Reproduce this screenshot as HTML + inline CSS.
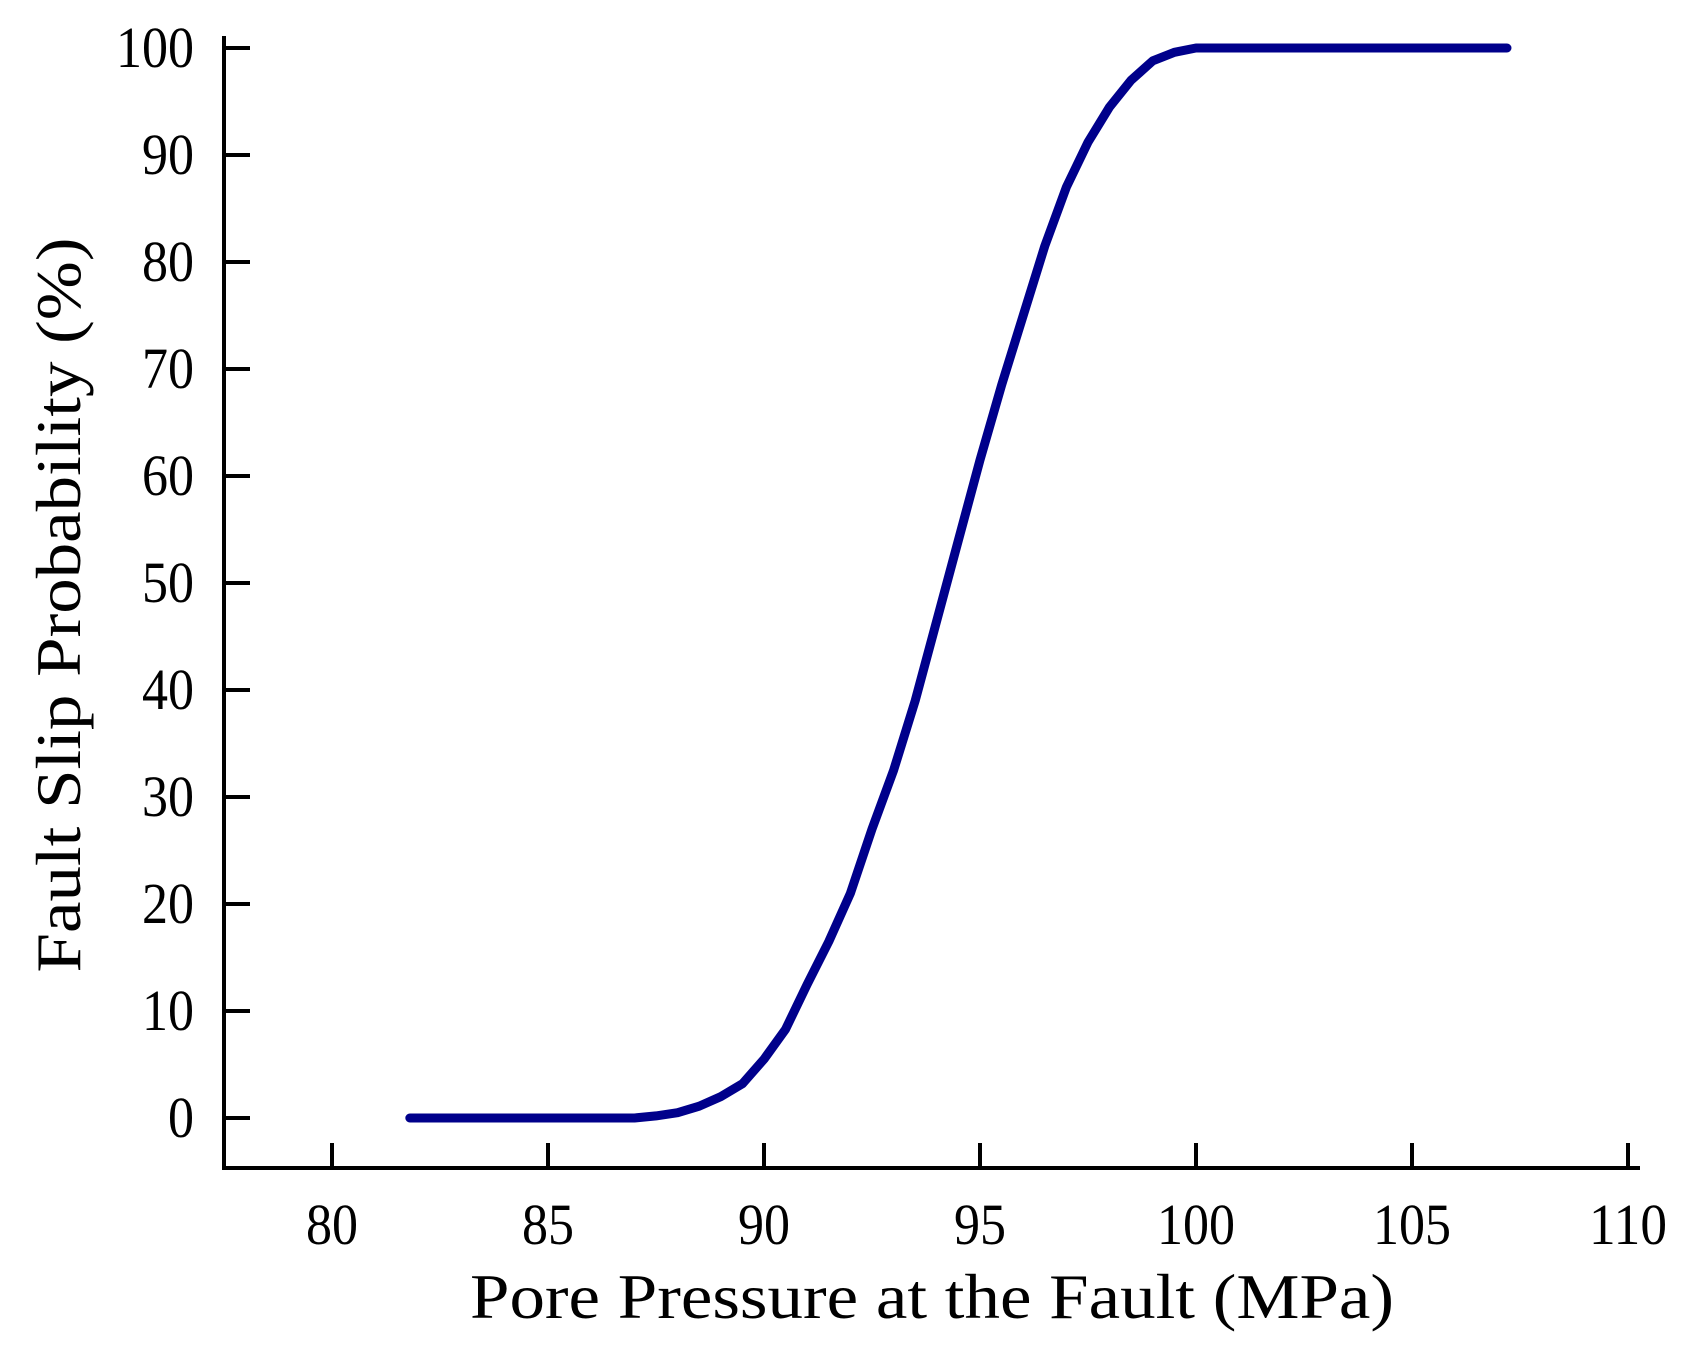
<!DOCTYPE html>
<html><head><meta charset="utf-8"><style>
html,body{margin:0;padding:0;background:#fff;}
svg{display:block;font-family:"Liberation Serif",serif;}
</style></head><body>
<svg id="chart" width="1686" height="1359" viewBox="0 0 1686 1359">
<g id="axes"></g>
<g id="series"></g>
<text x="932" y="1318" font-size="64" text-anchor="middle" textLength="924" lengthAdjust="spacingAndGlyphs">Pore Pressure at the Fault (MPa)</text>
<text transform="translate(80,605) rotate(-90)" font-size="64" text-anchor="middle" textLength="735" lengthAdjust="spacingAndGlyphs">Fault Slip Probability (%)</text>
</svg>
<script>
const xTicks = [80, 85, 90, 95, 100, 105, 110];
const yTicks = [0, 10, 20, 30, 40, 50, 60, 70, 80, 90, 100];
const pressure = [81.8, 83, 84, 85, 86, 87, 87.5, 88, 88.5, 89, 89.5, 90, 90.5, 91, 91.5, 92, 92.5, 93, 93.5, 94, 94.5, 95, 95.5, 96, 96.5, 97, 97.5, 98, 98.5, 99, 99.5, 100, 101, 103, 105, 107.2];
const probability = [0, 0, 0, 0, 0, 0, 0.2, 0.5, 1.1, 2, 3.2, 5.5, 8.3, 12.5, 16.5, 21, 27, 32.5, 39, 46.5, 54, 61.5, 68.5, 75, 81.5, 87, 91.2, 94.5, 97, 98.8, 99.6, 100, 100, 100, 100, 100];

const NS = "http://www.w3.org/2000/svg";
const x = v => 332 + (v - 80) * 43.2;
const y = v => 1118 - v * 10.7;
const axes = document.getElementById('axes');
function mk(tag, attrs, parent) {
  const e = document.createElementNS(NS, tag);
  for (const k in attrs) e.setAttribute(k, attrs[k]);
  parent.appendChild(e);
  return e;
}
let e = mk('path', {d: 'M224 36 V1168 H1640', fill: 'none', stroke: '#000', 'stroke-width': 4}, axes);


xTicks.forEach(t => {
  const l = mk('line', {x1: x(t), x2: x(t), y1: 1168, y2: 1143, stroke: '#000', 'stroke-width': 4}, axes);
  
  
  const s = String(t);
  const tx = mk('text', {x: x(t), y: 1244, 'font-size': 58, 'text-anchor': 'middle', textLength: s.length * 26, lengthAdjust: 'spacingAndGlyphs'}, axes);
  tx.textContent = s;
  
  
});
yTicks.forEach(t => {
  const l = mk('line', {x1: 224, x2: 250, y1: y(t), y2: y(t), stroke: '#000', 'stroke-width': 4}, axes);
  
  
  const s = String(t);
  const tx = mk('text', {x: 194, y: y(t) + 19, 'font-size': 58, 'text-anchor': 'end', textLength: s.length * 26, lengthAdjust: 'spacingAndGlyphs'}, axes);
  tx.textContent = s;
  
  
});
const d = pressure.map((p, i) => (i ? 'L' : 'M') + x(p).toFixed(1) + ' ' + y(probability[i]).toFixed(1)).join(' ');
const line = mk('path', {d: d, fill: 'none', stroke: '#00008b', 'stroke-width': 9, 'stroke-linecap': 'round', 'stroke-linejoin': 'round'}, document.getElementById('series'));


</script>
</body></html>
